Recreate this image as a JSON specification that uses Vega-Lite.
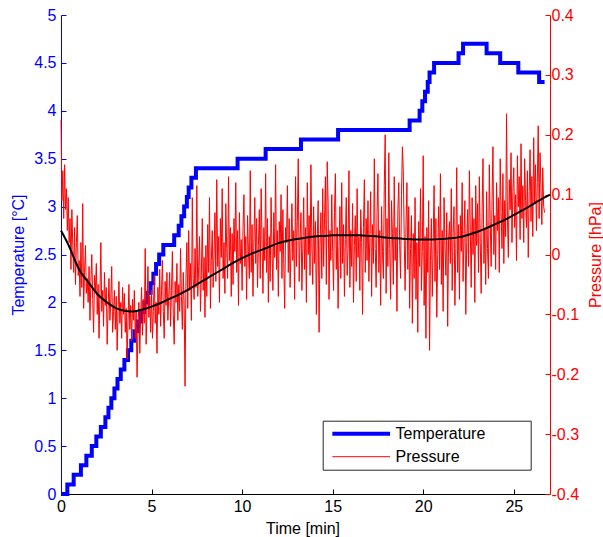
{
"$schema": "https://vega.github.io/schema/vega-lite/v6.json",
"width": 489, "height": 479,
"autosize": "none",
"padding": {"left": 61, "top": 15, "right": 53, "bottom": 43},
"background": "white",
"config": {
  "view": {"stroke": null},
  "font": "Liberation Sans",
  "axis": {"labelFontSize": 16, "titleFontSize": 16, "titleFontWeight": "normal", "grid": false, "tickSize": -5, "domainWidth": 1, "tickWidth": 1, "labelFont": "Liberation Sans", "titleFont": "Liberation Sans"}
},
"datasets": {
"temp": [{"t":0,"T":0},{"t":0.35,"T":0.1},{"t":0.7,"T":0.2},{"t":1.1,"T":0.3},{"t":1.4,"T":0.4},{"t":1.7,"T":0.5},{"t":1.95,"T":0.6},{"t":2.2,"T":0.7},{"t":2.45,"T":0.8},{"t":2.62,"T":0.9},{"t":2.78,"T":1.0},{"t":2.95,"T":1.1},{"t":3.12,"T":1.2},{"t":3.3,"T":1.3},{"t":3.5,"T":1.4},{"t":3.7,"T":1.5},{"t":3.88,"T":1.6},{"t":4.05,"T":1.7},{"t":4.25,"T":1.8},{"t":4.42,"T":1.9},{"t":4.6,"T":2.0},{"t":4.78,"T":2.1},{"t":4.95,"T":2.2},{"t":5.1,"T":2.3},{"t":5.25,"T":2.4},{"t":5.42,"T":2.5},{"t":5.65,"T":2.6},{"t":6.25,"T":2.7},{"t":6.5,"T":2.8},{"t":6.65,"T":2.9},{"t":6.8,"T":3.0},{"t":6.95,"T":3.1},{"t":7.05,"T":3.2},{"t":7.2,"T":3.3},{"t":7.45,"T":3.4},{"t":9.75,"T":3.5},{"t":11.3,"T":3.6},{"t":13.25,"T":3.7},{"t":15.3,"T":3.8},{"t":19.25,"T":3.9},{"t":19.8,"T":4.0},{"t":19.95,"T":4.1},{"t":20.1,"T":4.2},{"t":20.25,"T":4.3},{"t":20.35,"T":4.4},{"t":20.6,"T":4.5},{"t":21.95,"T":4.6},{"t":22.2,"T":4.7},{"t":23.5,"T":4.6},{"t":24.25,"T":4.5},{"t":25.25,"T":4.4},{"t":26.4,"T":4.3},{"t":26.7,"T":4.3}],
"fit": [{"t":0,"p":0.04},{"t":0.5,"p":0.01},{"t":1,"p":-0.025},{"t":1.5,"p":-0.046},{"t":2,"p":-0.066},{"t":2.5,"p":-0.079},{"t":3,"p":-0.089},{"t":3.5,"p":-0.094},{"t":4,"p":-0.095},{"t":4.5,"p":-0.092},{"t":5,"p":-0.087},{"t":5.5,"p":-0.081},{"t":6,"p":-0.074},{"t":6.5,"p":-0.067},{"t":7,"p":-0.059},{"t":7.5,"p":-0.05},{"t":8,"p":-0.041},{"t":8.5,"p":-0.032},{"t":9,"p":-0.023},{"t":9.5,"p":-0.014},{"t":10,"p":-0.006},{"t":10.5,"p":0.001},{"t":11,"p":0.007},{"t":11.5,"p":0.013},{"t":12,"p":0.019},{"t":12.5,"p":0.023},{"t":13,"p":0.026},{"t":13.5,"p":0.028},{"t":14,"p":0.03},{"t":14.5,"p":0.031},{"t":15,"p":0.032},{"t":15.5,"p":0.032},{"t":16,"p":0.032},{"t":16.5,"p":0.032},{"t":17,"p":0.031},{"t":17.5,"p":0.03},{"t":18,"p":0.028},{"t":18.5,"p":0.027},{"t":19,"p":0.026},{"t":19.5,"p":0.025},{"t":20,"p":0.025},{"t":20.5,"p":0.025},{"t":21,"p":0.026},{"t":21.5,"p":0.027},{"t":22,"p":0.029},{"t":22.5,"p":0.033},{"t":23,"p":0.038},{"t":23.5,"p":0.044},{"t":24,"p":0.051},{"t":24.5,"p":0.058},{"t":25,"p":0.066},{"t":25.5,"p":0.074},{"t":26,"p":0.083},{"t":26.5,"p":0.092},{"t":27,"p":0.1}],
"pres": [
{"t":0,"p":0.225},{"t":0.05,"p":0.09},{"t":0.1,"p":0.14},{"t":0.15,"p":0.06},{"t":0.2,"p":0.15},{"t":0.25,"p":0.075},{"t":0.3,"p":0.11},{"t":0.35,"p":0.04},{"t":0.4,"p":0.095},{"t":0.45,"p":0.02},
{"t":0.5,"p":0.06},{"t":0.55,"p":-0.025},{"t":0.6,"p":0.075},{"t":0.65,"p":0.015},{"t":0.7,"p":-0.03},{"t":0.75,"p":0.045},{"t":0.8,"p":-0.05},{"t":0.85,"p":0.02},{"t":0.9,"p":0.065},{"t":0.95,"p":-0.035},
{"t":1,"p":-0.01},{"t":1.05,"p":-0.07},{"t":1.1,"p":0.02},{"t":1.15,"p":-0.055},{"t":1.2,"p":0.085},{"t":1.25,"p":-0.09},{"t":1.3,"p":-0.03},{"t":1.35,"p":0.015},{"t":1.4,"p":-0.065},{"t":1.45,"p":-0.04},
{"t":1.5,"p":-0.08},{"t":1.55,"p":-0.02},{"t":1.6,"p":-0.11},{"t":1.65,"p":-0.045},{"t":1.7,"p":0},{"t":1.75,"p":-0.075},{"t":1.8,"p":-0.13},{"t":1.85,"p":-0.035},{"t":1.9,"p":-0.06},{"t":1.95,"p":-0.015},
{"t":2,"p":-0.1},{"t":2.05,"p":-0.05},{"t":2.1,"p":-0.14},{"t":2.15,"p":-0.07},{"t":2.2,"p":0.02},{"t":2.25,"p":-0.095},{"t":2.3,"p":-0.06},{"t":2.35,"p":-0.12},{"t":2.4,"p":-0.03},{"t":2.45,"p":-0.085},
{"t":2.5,"p":-0.055},{"t":2.55,"p":-0.15},{"t":2.6,"p":-0.09},{"t":2.65,"p":-0.04},{"t":2.7,"p":-0.11},{"t":2.75,"p":-0.075},{"t":2.8,"p":-0.02},{"t":2.85,"p":-0.13},{"t":2.9,"p":-0.095},{"t":2.95,"p":-0.06},
{"t":3,"p":-0.125},{"t":3.05,"p":-0.07},{"t":3.1,"p":-0.16},{"t":3.15,"p":-0.095},{"t":3.2,"p":-0.045},{"t":3.25,"p":-0.115},{"t":3.3,"p":-0.08},{"t":3.35,"p":-0.14},{"t":3.4,"p":-0.055},{"t":3.45,"p":-0.1},
{"t":3.5,"p":-0.065},{"t":3.55,"p":-0.13},{"t":3.6,"p":-0.09},{"t":3.65,"p":-0.175},{"t":3.7,"p":-0.11},{"t":3.75,"p":-0.05},{"t":3.8,"p":-0.125},{"t":3.85,"p":-0.085},{"t":3.9,"p":-0.145},{"t":3.95,"p":-0.075},
{"t":4,"p":-0.11},{"t":4.05,"p":-0.06},{"t":4.1,"p":-0.14},{"t":4.15,"p":-0.095},{"t":4.2,"p":-0.205},{"t":4.25,"p":-0.12},{"t":4.3,"p":-0.08},{"t":4.35,"p":-0.165},{"t":4.4,"p":-0.1},{"t":4.45,"p":-0.055},
{"t":4.5,"p":-0.135},{"t":4.55,"p":-0.075},{"t":4.6,"p":-0.115},{"t":4.65,"p":0.01},{"t":4.7,"p":-0.15},{"t":4.75,"p":-0.09},{"t":4.8,"p":-0.02},{"t":4.85,"p":-0.105},{"t":4.9,"p":-0.07},{"t":4.95,"p":-0.13},
{"t":5,"p":-0.06},{"t":5.05,"p":-0.14},{"t":5.1,"p":-0.095},{"t":5.15,"p":-0.035},{"t":5.2,"p":-0.115},{"t":5.25,"p":-0.08},{"t":5.3,"p":-0.165},{"t":5.35,"p":-0.055},{"t":5.4,"p":-0.1},{"t":5.45,"p":-0.025},
{"t":5.5,"p":-0.12},{"t":5.55,"p":-0.06},{"t":5.6,"p":-0.01},{"t":5.65,"p":-0.095},{"t":5.7,"p":-0.14},{"t":5.75,"p":-0.045},{"t":5.8,"p":-0.085},{"t":5.85,"p":-0.03},{"t":5.9,"p":-0.11},{"t":5.95,"p":-0.07},
{"t":6,"p":-0.03},{"t":6.05,"p":-0.12},{"t":6.1,"p":-0.06},{"t":6.15,"p":0.005},{"t":6.2,"p":-0.1},{"t":6.25,"p":-0.15},{"t":6.3,"p":-0.045},{"t":6.35,"p":-0.08},{"t":6.4,"p":-0.015},{"t":6.45,"p":-0.11},
{"t":6.5,"p":-0.05},{"t":6.55,"p":-0.095},{"t":6.6,"p":0.01},{"t":6.65,"p":-0.07},{"t":6.7,"p":-0.125},{"t":6.75,"p":-0.03},{"t":6.8,"p":-0.085},{"t":6.85,"p":-0.22},{"t":6.9,"p":-0.04},{"t":6.95,"p":0.02},
{"t":7,"p":-0.09},{"t":7.05,"p":0.04},{"t":7.1,"p":-0.06},{"t":7.15,"p":-0.015},{"t":7.2,"p":-0.11},{"t":7.25,"p":0.095},{"t":7.3,"p":-0.04},{"t":7.35,"p":-0.075},{"t":7.4,"p":0.01},{"t":7.45,"p":-0.055},
{"t":7.5,"p":0.115},{"t":7.55,"p":-0.07},{"t":7.6,"p":-0.02},{"t":7.65,"p":0.03},{"t":7.7,"p":-0.095},{"t":7.75,"p":-0.035},{"t":7.8,"p":0.06},{"t":7.85,"p":-0.06},{"t":7.9,"p":-0.005},{"t":7.95,"p":-0.105},
{"t":8,"p":0.015},{"t":8.05,"p":-0.07},{"t":8.1,"p":0.05},{"t":8.15,"p":-0.03},{"t":8.2,"p":0.095},{"t":8.25,"p":-0.09},{"t":8.3,"p":-0.01},{"t":8.35,"p":0.04},{"t":8.4,"p":-0.055},{"t":8.45,"p":0},
{"t":8.5,"p":0.07},{"t":8.55,"p":-0.045},{"t":8.6,"p":0.125},{"t":8.65,"p":-0.02},{"t":8.7,"p":0.03},{"t":8.75,"p":-0.08},{"t":8.8,"p":0.06},{"t":8.85,"p":-0.005},{"t":8.9,"p":0.11},{"t":8.95,"p":-0.04},
{"t":9,"p":0.02},{"t":9.05,"p":-0.065},{"t":9.1,"p":0.085},{"t":9.15,"p":0.01},{"t":9.2,"p":-0.04},{"t":9.25,"p":0.13},{"t":9.3,"p":-0.01},{"t":9.35,"p":0.045},{"t":9.4,"p":-0.07},{"t":9.45,"p":0.035},
{"t":9.5,"p":-0.05},{"t":9.55,"p":0.06},{"t":9.6,"p":0.005},{"t":9.65,"p":0.12},{"t":9.7,"p":-0.03},{"t":9.75,"p":0.04},{"t":9.8,"p":-0.085},{"t":9.85,"p":0.07},{"t":9.9,"p":-0.015},{"t":9.95,"p":0.025},
{"t":10,"p":-0.06},{"t":10.05,"p":0.045},{"t":10.1,"p":0.1},{"t":10.15,"p":-0.02},{"t":10.2,"p":0.03},{"t":10.25,"p":-0.075},{"t":10.3,"p":0.065},{"t":10.35,"p":0.005},{"t":10.4,"p":-0.04},{"t":10.45,"p":0.14},
{"t":10.5,"p":-0.03},{"t":10.55,"p":0.05},{"t":10.6,"p":-0.07},{"t":10.65,"p":0.02},{"t":10.7,"p":0.095},{"t":10.75,"p":-0.015},{"t":10.8,"p":0.06},{"t":10.85,"p":-0.055},{"t":10.9,"p":0.015},{"t":10.95,"p":0.075},
{"t":11,"p":-0.04},{"t":11.05,"p":0.11},{"t":11.1,"p":0.025},{"t":11.15,"p":-0.065},{"t":11.2,"p":0.045},{"t":11.25,"p":-0.01},{"t":11.3,"p":0.135},{"t":11.35,"p":-0.03},{"t":11.4,"p":0.06},{"t":11.45,"p":-0.08},
{"t":11.5,"p":0.03},{"t":11.55,"p":-0.045},{"t":11.6,"p":0.095},{"t":11.65,"p":0.01},{"t":11.7,"p":-0.06},{"t":11.75,"p":0.07},{"t":11.8,"p":-0.005},{"t":11.85,"p":0.15},{"t":11.9,"p":-0.025},{"t":11.95,"p":0.04},
{"t":12,"p":-0.07},{"t":12.05,"p":0.055},{"t":12.1,"p":0.005},{"t":12.15,"p":0.1},{"t":12.2,"p":-0.04},{"t":12.25,"p":0.075},{"t":12.3,"p":-0.015},{"t":12.35,"p":-0.09},{"t":12.4,"p":0.045},{"t":12.45,"p":0.02},
{"t":12.5,"p":0.115},{"t":12.55,"p":-0.03},{"t":12.6,"p":0.06},{"t":12.65,"p":-0.055},{"t":12.7,"p":0.01},{"t":12.75,"p":0.085},{"t":12.8,"p":-0.01},{"t":12.85,"p":0.04},{"t":12.9,"p":-0.075},{"t":12.95,"p":0.13},
{"t":13,"p":-0.02},{"t":13.05,"p":0.055},{"t":13.1,"p":0.16},{"t":13.15,"p":-0.045},{"t":13.2,"p":0.025},{"t":13.25,"p":0.07},{"t":13.3,"p":-0.06},{"t":13.35,"p":0.01},{"t":13.4,"p":0.095},{"t":13.45,"p":-0.025},
{"t":13.5,"p":0.045},{"t":13.55,"p":-0.08},{"t":13.6,"p":0.12},{"t":13.65,"p":0},{"t":13.7,"p":0.065},{"t":13.75,"p":-0.035},{"t":13.8,"p":0.15},{"t":13.85,"p":0.02},{"t":13.9,"p":-0.05},{"t":13.95,"p":0.08},
{"t":14,"p":-0.015},{"t":14.05,"p":0.055},{"t":14.1,"p":-0.1},{"t":14.15,"p":0.03},{"t":14.2,"p":0.09},{"t":14.25,"p":-0.13},{"t":14.3,"p":0.015},{"t":14.35,"p":0.07},{"t":14.4,"p":-0.04},{"t":14.45,"p":0.11},
{"t":14.5,"p":-0.02},{"t":14.55,"p":0.06},{"t":14.6,"p":0.13},{"t":14.65,"p":-0.05},{"t":14.7,"p":0.155},{"t":14.75,"p":0.085},{"t":14.8,"p":-0.075},{"t":14.85,"p":0.04},{"t":14.9,"p":-0.01},{"t":14.95,"p":0.1},
{"t":15,"p":0.005},{"t":15.05,"p":-0.06},{"t":15.1,"p":0.07},{"t":15.15,"p":0.135},{"t":15.2,"p":-0.025},{"t":15.25,"p":0.045},{"t":15.3,"p":-0.09},{"t":15.35,"p":0.015},{"t":15.4,"p":0.08},{"t":15.45,"p":-0.04},
{"t":15.5,"p":0.12},{"t":15.55,"p":-0.015},{"t":15.6,"p":0.05},{"t":15.65,"p":-0.07},{"t":15.7,"p":0.025},{"t":15.75,"p":0.095},{"t":15.8,"p":-0.035},{"t":15.85,"p":0.01},{"t":15.9,"p":0.14},{"t":15.95,"p":-0.055},
{"t":16,"p":0.04},{"t":16.05,"p":-0.02},{"t":16.1,"p":0.085},{"t":16.15,"p":-0.08},{"t":16.2,"p":0.015},{"t":16.25,"p":0.065},{"t":16.3,"p":-0.045},{"t":16.35,"p":0.11},{"t":16.4,"p":-0.005},{"t":16.45,"p":0.03},
{"t":16.5,"p":-0.06},{"t":16.55,"p":0.075},{"t":16.6,"p":0.02},{"t":16.65,"p":-0.1},{"t":16.7,"p":0.045},{"t":16.75,"p":0.125},{"t":16.8,"p":-0.03},{"t":16.85,"p":0.06},{"t":16.9,"p":-0.01},{"t":16.95,"p":0.09},
{"t":17,"p":-0.045},{"t":17.05,"p":0.025},{"t":17.1,"p":0.105},{"t":17.15,"p":-0.07},{"t":17.2,"p":0.05},{"t":17.25,"p":-0.015},{"t":17.3,"p":0.16},{"t":17.35,"p":0.01},{"t":17.4,"p":-0.055},{"t":17.45,"p":0.07},
{"t":17.5,"p":0.135},{"t":17.55,"p":-0.03},{"t":17.6,"p":0.04},{"t":17.65,"p":-0.085},{"t":17.7,"p":0.08},{"t":17.75,"p":0.005},{"t":17.8,"p":-0.04},{"t":17.85,"p":0.115},{"t":17.9,"p":0.2},{"t":17.95,"p":-0.065},
{"t":18,"p":0.06},{"t":18.05,"p":-0.02},{"t":18.1,"p":0.17},{"t":18.15,"p":0.01},{"t":18.2,"p":-0.075},{"t":18.25,"p":0.09},{"t":18.3,"p":0.035},{"t":18.35,"p":-0.05},{"t":18.4,"p":0.13},{"t":18.45,"p":-0.01},
{"t":18.5,"p":0.045},{"t":18.55,"p":-0.095},{"t":18.6,"p":0.075},{"t":18.65,"p":0.12},{"t":18.7,"p":0.015},{"t":18.75,"p":-0.04},{"t":18.8,"p":0.1},{"t":18.85,"p":0.18},{"t":18.9,"p":0.14},{"t":18.95,"p":0.03},
{"t":19,"p":-0.06},{"t":19.05,"p":0.05},{"t":19.1,"p":0.12},{"t":19.15,"p":-0.025},{"t":19.2,"p":0.08},{"t":19.25,"p":-0.09},{"t":19.3,"p":0.01},{"t":19.35,"p":0.065},{"t":19.4,"p":-0.115},{"t":19.45,"p":0.035},
{"t":19.5,"p":-0.04},{"t":19.55,"p":0.095},{"t":19.6,"p":-0.075},{"t":19.65,"p":0.02},{"t":19.7,"p":-0.13},{"t":19.75,"p":0.055},{"t":19.8,"p":-0.02},{"t":19.85,"p":0.11},{"t":19.9,"p":-0.06},{"t":19.95,"p":0.005},
{"t":20,"p":0.165},{"t":20.05,"p":-0.085},{"t":20.1,"p":0.03},{"t":20.15,"p":-0.14},{"t":20.2,"p":0.045},{"t":20.25,"p":-0.03},{"t":20.3,"p":0.09},{"t":20.35,"p":-0.16},{"t":20.4,"p":-0.01},{"t":20.45,"p":0.06},
{"t":20.5,"p":-0.07},{"t":20.55,"p":0.02},{"t":20.6,"p":0.115},{"t":20.65,"p":-0.045},{"t":20.7,"p":0.06},{"t":20.75,"p":-0.105},{"t":20.8,"p":0},{"t":20.85,"p":0.08},{"t":20.9,"p":-0.025},{"t":20.95,"p":0.135},
{"t":21,"p":-0.05},{"t":21.05,"p":0.04},{"t":21.1,"p":-0.095},{"t":21.15,"p":0.095},{"t":21.2,"p":0.015},{"t":21.25,"p":-0.035},{"t":21.3,"p":0.07},{"t":21.35,"p":-0.12},{"t":21.4,"p":0.025},{"t":21.45,"p":0.055},
{"t":21.5,"p":-0.015},{"t":21.55,"p":0.11},{"t":21.6,"p":-0.06},{"t":21.65,"p":0.035},{"t":21.7,"p":0.08},{"t":21.75,"p":-0.085},{"t":21.8,"p":0.01},{"t":21.85,"p":0.145},{"t":21.9,"p":-0.03},{"t":21.95,"p":0.05},
{"t":22,"p":-0.075},{"t":22.05,"p":0.065},{"t":22.1,"p":0.005},{"t":22.15,"p":0.12},{"t":22.2,"p":-0.045},{"t":22.25,"p":0.03},{"t":22.3,"p":0.09},{"t":22.35,"p":-0.1},{"t":22.4,"p":0.02},{"t":22.45,"p":0.075},
{"t":22.5,"p":-0.02},{"t":22.55,"p":0.14},{"t":22.6,"p":0.04},{"t":22.65,"p":-0.055},{"t":22.7,"p":0.095},{"t":22.75,"p":0},{"t":22.8,"p":0.06},{"t":22.85,"p":-0.08},{"t":22.9,"p":0.115},{"t":22.95,"p":0.015},
{"t":23,"p":0.085},{"t":23.05,"p":-0.03},{"t":23.1,"p":0.13},{"t":23.15,"p":0.02},{"t":23.2,"p":-0.065},{"t":23.25,"p":0.07},{"t":23.3,"p":0.16},{"t":23.35,"p":-0.015},{"t":23.4,"p":0.045},{"t":23.45,"p":-0.05},
{"t":23.5,"p":0.105},{"t":23.55,"p":0.01},{"t":23.6,"p":-0.04},{"t":23.65,"p":0.15},{"t":23.7,"p":0.055},{"t":23.75,"p":-0.02},{"t":23.8,"p":0.09},{"t":23.85,"p":0.18},{"t":23.9,"p":0},{"t":23.95,"p":0.065},
{"t":24,"p":-0.025},{"t":24.05,"p":0.12},{"t":24.1,"p":0.04},{"t":24.15,"p":0.095},{"t":24.2,"p":-0.03},{"t":24.25,"p":0.16},{"t":24.3,"p":0.07},{"t":24.35,"p":0.01},{"t":24.4,"p":0.135},{"t":24.45,"p":-0.015},
{"t":24.5,"p":0.09},{"t":24.55,"p":0.03},{"t":24.6,"p":0.235},{"t":24.65,"p":0.06},{"t":24.7,"p":-0.005},{"t":24.75,"p":0.125},{"t":24.8,"p":0.075},{"t":24.85,"p":0.17},{"t":24.9,"p":0.02},{"t":24.95,"p":0.105},
{"t":25,"p":0.145},{"t":25.05,"p":0.045},{"t":25.1,"p":0.1},{"t":25.15,"p":-0.01},{"t":25.2,"p":0.165},{"t":25.25,"p":0.08},{"t":25.3,"p":0.13},{"t":25.35,"p":0.025},{"t":25.4,"p":0.185},{"t":25.45,"p":0.06},
{"t":25.5,"p":0.115},{"t":25.55,"p":0.02},{"t":25.6,"p":0.16},{"t":25.65,"p":0.09},{"t":25.7,"p":0.045},{"t":25.75,"p":0.14},{"t":25.8,"p":-0.005},{"t":25.85,"p":0.105},{"t":25.9,"p":0.175},{"t":25.95,"p":0.055},
{"t":26,"p":0.13},{"t":26.05,"p":0.03},{"t":26.1,"p":0.195},{"t":26.15,"p":0.085},{"t":26.2,"p":0.15},{"t":26.25,"p":0.04},{"t":26.3,"p":0.12},{"t":26.35,"p":0.215},{"t":26.4,"p":0.06},{"t":26.45,"p":0.17},
{"t":26.5,"p":0.11},{"t":26.55,"p":0.05},{"t":26.6,"p":0.145},{"t":26.65,"p":0.08},{"t":26.7,"p":0.07}
]
},
"encoding": {
  "x": {"field": "t", "type": "quantitative", "scale": {"domain": [0, 27], "nice": false},
        "axis": {"values": [0,5,10,15,20,25], "title": "Time [min]", "labelFlush": false, "labelPadding": 9,
                 "domainColor": "#000000", "tickColor": "#000000", "labelColor": "#000000", "titleColor": "#000000",
                 "titleX": 241.5, "titleY": 34, "titleBaseline": "middle"}}
},
"layer": [
  {
    "data": {"name": "temp"},
    "mark": {"type": "line", "interpolate": "step-after", "strokeWidth": 4},
    "encoding": {
      "y": {"field": "T", "type": "quantitative", "scale": {"domain": [0, 5], "nice": false},
            "axis": {"orient": "left", "title": "Temperature [°C]", "values": [0,0.5,1,1.5,2,2.5,3,3.5,4,4.5,5], "format": ".1~f",
                     "labelPadding": 10, "domainColor": "#0000ff", "tickColor": "#0000ff", "labelColor": "#0000ff", "titleColor": "#0000ff",
                     "titleX": -43, "titleY": 239.5, "titleBaseline": "middle"}},
      "color": {"datum": "Temperature", "type": "nominal",
                "scale": {"domain": ["Temperature", "Pressure"], "range": ["#0000ff", "#ff0000"]},
                "legend": {"orient": "none", "legendX": 261.7, "legendY": 405.7, "title": null, "symbolType": "stroke", "symbolSize": 3330,
                           "labelFontSize": 16, "labelFont": "Liberation Sans", "labelColor": "#000000", "strokeColor": "#262626", "fillColor": "#ffffff",
                           "padding": 5, "rowPadding": 7, "symbolOffset": 25.5, "labelOffset": 26.3,
                           "labelExpr": "datum.label + '\u00a0\u00a0\u00a0\u00a0\u00a0\u00a0\u00a0\u00a0\u00a0\u200b'",
                           "encode": {"symbols": {"update": {"strokeWidth": {"signal": "datum.value === 'Temperature' ? 4 : 1"}}}}}}
    }
  },
  {
    "encoding": {
      "y": {"field": "p", "type": "quantitative", "scale": {"domain": [-0.4, 0.4], "nice": false},
            "axis": {"orient": "right", "title": "Pressure [hPa]", "values": [-0.4,-0.3,-0.2,-0.1,0,0.1,0.2,0.3,0.4],
                     "labelExpr": "datum.value < -0.001 ? '-' + format(-datum.value, '.1~f') : format(abs(datum.value) < 0.001 ? 0 : datum.value, '.1~f')",
                     "labelPadding": 6, "domainColor": "#ff0000", "tickColor": "#ff0000", "labelColor": "#ff0000", "titleColor": "#ff0000",
                     "titleAngle": 270, "titleX": 45, "titleY": 239.5, "titleBaseline": "middle"}}
    },
    "layer": [
      {"data": {"name": "pres"}, "mark": {"type": "line", "strokeWidth": 1},
       "encoding": {"color": {"datum": "Pressure", "type": "nominal"}}},
      {"data": {"name": "fit"}, "mark": {"type": "line", "interpolate": "natural", "strokeWidth": 2, "color": "#000000"}}
    ]
  }
],
"resolve": {"scale": {"y": "independent"}}
}
